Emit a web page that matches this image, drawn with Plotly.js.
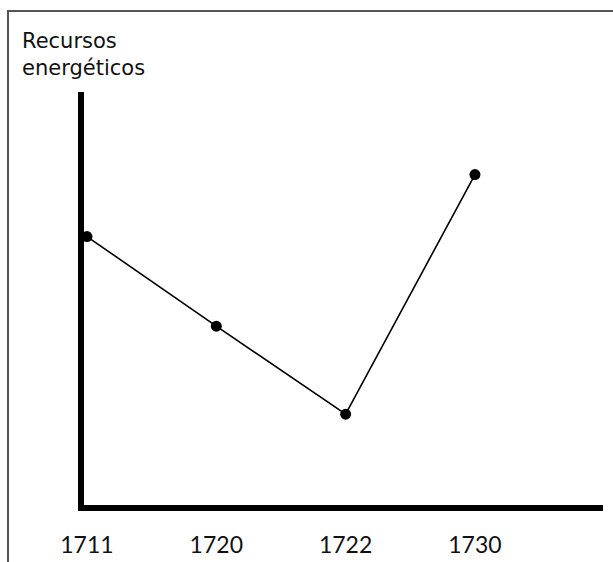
<!DOCTYPE html>
<html>
<head>
<meta charset="utf-8">
<script src="https://cdn.plot.ly/plotly-3.0.1.min.js"></script>
<style>html,body{margin:0;padding:0;background:#fff;}#chart{width:613px;height:562px;}</style>
</head>
<body>
<div id="chart"></div>
<script>
const years = ['1711', '1720', '1722', '1730'];
const recursos = [6.5, 4.33, 2.2, 8.0];
const yTitle = 'Recursos<br>energéticos';

const L = 84, R = 10, T = 92, B = 57, W = 613, H = 562;
const pw = W - L - R, ph = H - T - B;
const px = v => (v - L) / pw;
const py = v => (H - B - v) / ph;

const trace = {
  x: years, y: recursos, type: 'scatter', mode: 'lines+markers',
  line: {color: '#000', width: 1.6},
  marker: {color: '#000', size: 11},
  cliponaxis: false, hoverinfo: 'skip'
};

const layout = {
  width: W, height: H,
  margin: {l: L, r: R, t: T, b: B},
  paper_bgcolor: '#fff', plot_bgcolor: '#fff',
  showlegend: false,
  font: {family: 'Lato, "Noto Sans", sans-serif', color: '#111'},
  title: {
    text: yTitle, xref: 'container', yref: 'container',
    x: 22 / W, xanchor: 'left', y: 1 - 48 / H, yanchor: 'top',
    font: {size: 21, color: '#111', family: '"DejaVu Sans", sans-serif'}
  },
  xaxis: {
    type: 'category', range: [-0.023, 3.99],
    showline: true, linecolor: '#000', linewidth: 6,
    showgrid: false, zeroline: false,
    ticks: 'outside', ticklen: 14, tickcolor: 'rgba(0,0,0,0)',
    tickfont: {size: 23, color: '#111'}
  },
  yaxis: {
    range: [0, 10],
    showline: true, linecolor: '#000', linewidth: 6,
    showgrid: false, zeroline: false, showticklabels: false, ticks: ''
  },
  shapes: [{
    type: 'path', xref: 'paper', yref: 'paper',
    path: `M ${px(8)} ${py(H + 5)} L ${px(8)} ${py(11)} L ${px(W + 5)} ${py(11)}`,
    line: {color: '#555', width: 2}
  }]
};

Plotly.newPlot('chart', [trace], layout, {displayModeBar: false, staticPlot: true});
</script>
</body>
</html>
